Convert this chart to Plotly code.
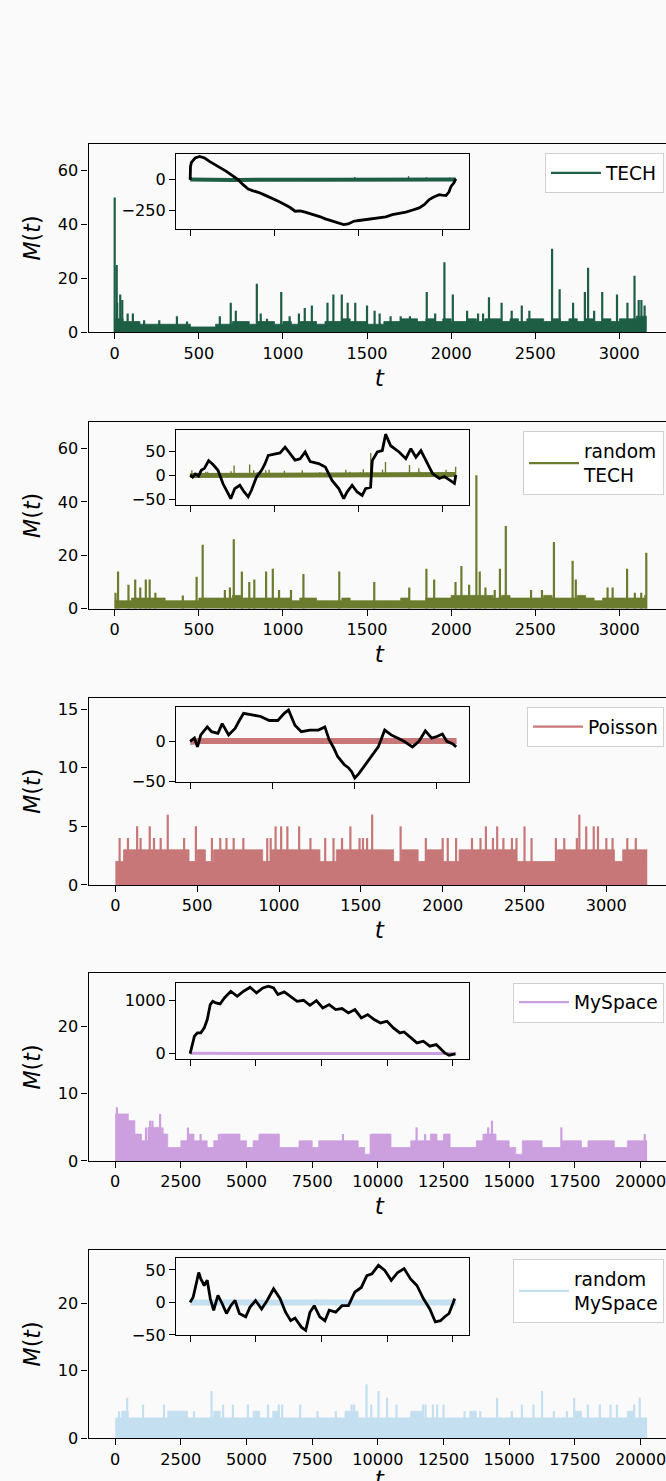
import numpy as np
import plotly.graph_objects as go

W, H = 666, 1481          # reference picture size (px); positions below are in these px
K = 1.0075                # compensation for the capture scale
BG = "#fafafa"

# ------------------------------------------------------------------ data
# sampled envelope of the dense part of each M(t) series
tech_env_t = list(range(0, 3200, 50)) + [3163]
tech_env = [5, 4, 4, 3, 3, 3, 3, 3, 3, 2, 2, 2, 3, 3, 4, 4, 3, 4, 4, 3,
            4, 3, 4, 4, 3, 4, 4, 5, 4, 4, 3, 3, 4, 4, 5, 5, 4, 5, 4, 5,
            4, 4, 5, 4, 5, 5, 4, 5, 4, 5, 5, 4, 5, 4, 5, 4, 5, 4, 5, 4,
            5, 5, 6, 6, 6]
tech_spike_t = [0, 12, 15, 33, 45, 77, 108, 175, 265, 370, 430, 625, 690, 720, 845,
                868, 905, 990, 1040, 1095, 1130, 1172, 1265, 1300, 1350, 1385, 1430,
                1500, 1545, 1575, 1640, 1700, 1755, 1855, 1905, 1960, 2010, 2095,
                2160, 2190, 2225, 2300, 2360, 2420, 2465, 2600, 2645, 2725, 2795,
                2814, 2850, 2898, 2986, 3048, 3090, 3115, 3131, 3150]
tech_spike_v = [50, 25, 11, 14, 12, 7, 7, 4.5, 4.5, 6, 4, 6, 11, 8, 18,
                7, 5, 15, 6, 7, 9, 10, 11, 14, 14, 11, 11,
                10, 8, 7, 6, 6, 6, 15, 7, 26, 14, 8,
                7, 7, 13, 11, 8, 10, 8, 31, 16, 11, 15,
                24, 8, 15, 14, 11, 21, 12, 12, 10]

rtech_env_t = list(range(0, 3200, 50)) + [3163]
rtech_env = [3, 3, 4, 4, 4, 4, 3, 3, 3, 3, 4, 4, 4, 4, 5, 4, 4, 4, 4, 4,
             4, 3, 4, 4, 3, 3, 3, 4, 3, 3, 3, 3, 3, 3, 4, 3, 3, 4, 4, 4,
             5, 5, 5, 5, 5, 4, 5, 4, 4, 4, 4, 5, 4, 4, 4, 5, 4, 3, 4, 4,
             4, 4, 4, 5, 5]
rtech_spike_t = [5, 20, 82, 122, 152, 185, 208, 242, 405, 487, 523, 655, 685, 708,
                 756, 800, 830, 900, 940, 977, 1048, 1122, 1335, 1543, 1751, 1853,
                 1899, 2026, 2061, 2107, 2150, 2170, 2204, 2259, 2290, 2325, 2475,
                 2540, 2611, 2722, 2741, 2930, 2960, 3046, 3092, 3130, 3160]
rtech_spike_v = [6, 14, 9, 11, 8, 11, 11, 6, 5, 12, 24, 7, 8, 26,
                 14, 10, 11, 14, 15, 7, 7, 13, 14, 10, 8, 15,
                 11, 10, 16, 9, 50, 14, 8, 7, 15, 31, 7,
                 7, 25, 18, 11, 8, 8, 15, 6, 6, 21]

pois_env_t = list(range(0, 3250, 50)) + [3250]
pois_env = [2, 3, 3, 3, 3, 3, 3, 3, 3, 2, 3, 2, 3, 3, 3, 3, 3, 3, 2, 3,
            3, 3, 3, 3, 3, 2, 2, 3, 3, 3, 3, 3, 3, 3, 2, 3, 3, 2, 3, 3,
            2, 2, 3, 3, 3, 3, 3, 3, 3, 2, 2, 2, 2, 2, 3, 3, 3, 3, 3, 3,
            3, 2, 3, 3, 3, 3]
pois_spike_t = [320, 1569, 2835,
                133, 210, 492, 979, 1013, 1051, 1123, 1436, 1743, 2264, 2333,
                2500, 2877, 2923, 2949,
                26, 77, 154, 236, 277, 420, 590, 641, 679, 723, 782, 928, 949,
                1192, 1282, 1333, 1385, 1492, 1513, 1538, 1897, 2000, 2031, 2082,
                2179, 2231, 2307, 2371, 2423, 2451, 2543, 2692, 2743, 2820, 3000,
                3038, 3128, 3180]
pois_spike_v = [6, 6, 6,
                5, 5, 5, 5, 5, 5, 5, 5, 5, 5, 5,
                5, 5, 5, 5,
                4, 4, 4, 4, 4, 4, 4, 4, 4, 4, 4, 4, 4,
                4, 4, 4, 4, 4, 4, 4, 4, 4, 4, 4,
                4, 4, 4, 4, 4, 4, 4, 4, 4, 4, 4,
                4, 4, 4]

mys_env_t = list(range(0, 20250, 250)) + [20250]
mys_env = [7, 7, 6, 4, 3, 5, 5, 4, 2, 2, 3, 4, 3, 3, 2, 3, 4, 4, 4, 3,
           2, 3, 4, 4, 4, 2, 2, 2, 3, 3, 2, 3, 3, 3, 3, 3, 3, 2, 1, 4,
           4, 4, 2, 2, 2, 3, 3, 3, 4, 3, 4, 2, 2, 2, 2, 3, 4, 4, 3, 3,
           2, 1, 3, 3, 3, 2, 2, 2, 3, 3, 3, 2, 3, 3, 3, 3, 2, 2, 3, 3,
           3, 3]
mys_spike_t = [65, 150, 277, 400, 520, 1174, 1330, 1418, 1597, 1711, 1800, 2771,
               3250, 3950, 4500, 5500, 8670, 9730, 10350, 11475, 11800, 12580,
               14200, 14344, 16985, 18700, 20160]
mys_spike_v = [8, 7, 7, 6, 6, 5, 6, 6, 5, 7, 5, 5,
               4, 4, 4, 4, 4, 4, 4, 5, 4, 4,
               5, 6, 5, 3, 4]

rmys_env_t = list(range(0, 20250, 250)) + [20250]
rmys_env = [3, 4, 3, 3, 3, 3, 3, 3, 4, 4, 4, 3, 3, 3, 3, 4, 3, 3, 3, 3,
            3, 4, 3, 3, 4, 3, 3, 3, 3, 3, 3, 3, 3, 3, 3, 4, 4, 3, 3, 3,
            3, 3, 3, 3, 3, 4, 4, 3, 3, 3, 3, 3, 3, 3, 4, 3, 3, 3, 3, 3,
            3, 3, 3, 3, 3, 3, 3, 3, 3, 3, 4, 3, 3, 3, 3, 3, 3, 3, 4, 3,
            3, 3]
rmys_spike_t = [456, 3668, 9568, 10025, 16250, 10350, 14540, 17474, 19968,
                1060, 1858, 4108, 4483, 5053, 5819, 6227, 6357, 7042, 8998, 9095,
                9747, 10709, 11720, 11818, 12095, 12258, 12502, 15485, 15925,
                17995, 18452, 18859, 19104, 19756,
                150, 300, 2300, 2600, 3000, 5400, 7700, 8400, 13300, 13900, 15100,
                16700, 17200]
rmys_spike_v = [6, 7, 8, 7, 7, 6, 6, 6, 6,
                5, 5, 5, 5, 5, 5, 5, 5, 5, 5, 5,
                5, 5, 5, 5, 5, 5, 5, 5, 5,
                5, 5, 5, 5, 5,
                4, 4, 4, 4, 4, 4, 4, 4, 4, 4, 4,
                4, 4]

# inset: cumulative deviation curves
tech_cum_t = [0, 4, 15, 32, 60, 112, 172, 230, 291, 360, 431, 500, 571, 630, 691, 750,
              810, 890, 970, 1050, 1130, 1190, 1249, 1310, 1369, 1430, 1489, 1550,
              1609, 1670, 1728, 1780, 1828, 1880, 1948, 2010, 2088, 2170, 2248, 2330,
              2407, 2490, 2567, 2650, 2727, 2790, 2846, 2900, 2966, 3000, 3046, 3080,
              3106, 3140, 3163]
tech_cum = [0, 107, 140, 156, 175, 188, 175, 148, 121, 95, 67, 35, 0, -40, -75, -90,
            -102, -125, -148, -175, -202, -225, -255, -252, -263, -275, -282, -300,
            -317, -330, -344, -352, -363, -358, -336, -330, -322, -318, -309, -300,
            -282, -275, -263, -245, -228, -200, -161, -140, -121, -125, -129, -100,
            -54, -25, 6]

rtech_cum_t = [0, 30, 60, 100, 132, 170, 220, 272, 331, 391, 451, 483, 531, 591, 643,
               691, 731, 790, 850, 890, 930, 1010, 1070, 1130, 1189, 1249, 1309, 1369,
               1429, 1529, 1609, 1689, 1769, 1828, 1868, 1928, 1988, 2048, 2088, 2148,
               2160, 2168, 2228, 2287, 2327, 2387, 2487, 2567, 2627, 2687, 2747, 2806,
               2886, 2966, 3026, 3086, 3146, 3163]
rtech_cum = [0, -4, 2, -2, 10, 14, 30, 22, 10, -18, -38, -49, -28, -21, -35,
             -45, -31, -4, 10, 23, 41, 43, 46, 58, 45, 31, 34, 48,
             28, 24, 17, -11, -28, -49, -35, -21, -35, -42, -28, -25,
             10, 30, 48, 51, 85, 61, 48, 34, 55, 37, 51, 30,
             3, -7, -3, -10, -17, 0]

pois_cum_t = [0, 52, 89, 130, 209, 261, 339, 391, 469, 548, 600, 652, 756, 861, 965,
              1069, 1148, 1200, 1278, 1356, 1460, 1565, 1643, 1695, 1750, 1799, 1878,
              1930, 1970, 2008, 2060, 2139, 2217, 2295, 2373, 2452, 2530, 2608, 2712,
              2791, 2869, 2947, 3010, 3077, 3130, 3200, 3246]
pois_cum = [0, 4, -7, 8, 18, 12, 10, 22, 8, 16, 26, 35, 33, 31, 26,
            26, 35, 39, 20, 12, 14, 14, 18, 2, -8, -19, -29,
            -33, -38, -46, -40, -29, -17, -7, 14, 8, 4, 0, -7,
            0, 13, 4, 6, 9, 0, -3, -7]

mys_cum_t = [0, 163, 326, 554, 814, 1075, 1303, 1531, 1726, 1954, 2280, 2606, 3094,
             3583, 4071, 4560, 5049, 5537, 5960, 6351, 6677, 7165, 7654, 8143, 8631,
             9120, 9608, 10097, 10586, 11074, 11563, 12051, 12540, 13028, 13517,
             14006, 14494, 14983, 15471, 15960, 16286, 16774, 17263, 17751, 18240,
             18729, 19380, 19705, 20193]
mys_cum = [0, 169, 325, 388, 388, 481, 638, 919, 981, 950, 931, 1044, 1169,
           1075, 1169, 1244, 1138, 1231, 1263, 1231, 1106, 1156, 1075, 981, 1000,
           906, 994, 856, 919, 825, 844, 763, 825, 669, 731,
           638, 575, 606, 481, 388, 406, 294, 200, 231, 138,
           169, 13, -31, -6]

rmys_cum_t = [0, 228, 489, 651, 814, 1075, 1303, 1531, 1791, 2117, 2443, 2768, 3094,
              3420, 3746, 4234, 4560, 4983, 5439, 5863, 6351, 6840, 7263, 7654, 7980,
              8468, 8794, 9120, 9446, 9868, 10260, 10586, 11074, 11563, 12051, 12540,
              13028, 13451, 13842, 14331, 14819, 15308, 15797, 16286, 16774, 17263,
              17751, 18240, 18664, 19054, 19380, 19705, 20030, 20128]
rmys_cum = [0, 8, 31, 46, 36, 26, 34, 6, -12, 11, -2, -17, -5,
            3, -17, -22, -7, 3, -10, 3, 21, 6, -15, -28, -24,
            -38, -43, -15, -5, -22, -28, -12, -15, -5, -5, 16,
            23, 41, 44, 57, 49, 34, 46, 52, 36, 26,
            6, -10, -30, -28, -22, -17, 0, 6]

names = ["TECH", "random<br>TECH", "Poisson", "MySpace", "random<br>MySpace"]
colors = ["#1d5e45", "#6b7c2f", "#c77777", "#cc9fdf", "#c4dff0"]

series = [
    (tech_env_t, tech_env, tech_spike_t, tech_spike_v, tech_cum_t, tech_cum),
    (rtech_env_t, rtech_env, rtech_spike_t, rtech_spike_v, rtech_cum_t, rtech_cum),
    (pois_env_t, pois_env, pois_spike_t, pois_spike_v, pois_cum_t, pois_cum),
    (mys_env_t, mys_env, mys_spike_t, mys_spike_v, mys_cum_t, mys_cum),
    (rmys_env_t, rmys_env, rmys_spike_t, rmys_spike_v, rmys_cum_t, rmys_cum),
]

# ------------------------------------------------------------------ layout geometry (px)
main_top = [144, 422.7, 699, 975, 1252.3]
main_bot = [333, 610, 886.7, 1163.3, 1441]
ins_top = [154, 430.7, 708.3, 985, 1260.7]
ins_bot = [229, 506, 783.3, 1060.7, 1337.7]
MX0, MX1 = 88, 666
IX0, IX1 = 175, 466

main_xr = [[-155.5, 3301], [-155.5, 3301], [-164, 3389], [-1015, 21122], [-1015, 21122]]
main_yr = [[0, 70], [0, 70], [0, 16], [0, 28], [0, 28]]
main_xdt = [500, 500, 500, 2500, 2500]
main_ydt = [20, 20, 5, 10, 10]
ins_xr = [[-168, 3317], [-168, 3317], [-172, 3399], [-1072, 21210], [-1072, 21210]]
ins_yr = [[-395, 210], [-62, 94], [-50.5, 43], [-94, 1324], [-50, 68]]
ins_ydt = [250, 50, 50, 1000, 50]
ins_xdt = [1000, 1000, 1000, 5000, 5000]
band_w = [4, 5, 6, 3, 6]


def dx(a, b):
    return [a / W, b / W]


def dy(top, bot):
    return [1 - bot / H, 1 - top / H]


FONT = "DejaVu Sans"
tickfont = dict(family=FONT, size=16 * K, color="black")
axis_common = dict(showline=True, linecolor="black", linewidth=1.2, mirror=True,
                   ticks="outside", ticklen=6 * K, tickwidth=1.2, tickcolor="black",
                   showgrid=False, zeroline=False, tickfont=tickfont,
                   tickformat="d", exponentformat="none")

fig = go.Figure()
layout = {}

for i, (et, ev, st, sv, ct, cv) in enumerate(series):
    c = colors[i]
    ma = 2 * i + 1
    ia = 2 * i + 2
    mx = "x" if ma == 1 else f"x{ma}"
    my = "y" if ma == 1 else f"y{ma}"
    ix, iy = f"x{ia}", f"y{ia}"
    leg = "legend" if i == 0 else f"legend{i + 1}"

    # main dense part
    fig.add_trace(go.Scatter(x=et, y=ev, mode="lines", line=dict(color=c, width=0.8, shape="hv"),
                             fill="tozeroy", fillcolor=c, showlegend=False,
                             xaxis=mx, yaxis=my, hoverinfo="skip"))
    # main spikes
    sx, sy = [], []
    for t, v in zip(st, sv):
        sx += [t, t, None]
        sy += [0, v, None]
    fig.add_trace(go.Scatter(x=sx, y=sy, mode="lines", line=dict(color=c, width=2.2),
                             name=names[i], legend=leg, showlegend=True,
                             xaxis=mx, yaxis=my))

    # inset: centered series
    mean = float(np.mean(ev))
    fig.add_trace(go.Scatter(x=et, y=[v - mean for v in ev], mode="lines",
                             line=dict(color=c, width=band_w[i]), showlegend=False,
                             xaxis=ix, yaxis=iy, hoverinfo="skip"))
    isx, isy = [], []
    for t, v in zip(st, sv):
        isx += [t, t, None]
        isy += [0, v - mean, None]
    fig.add_trace(go.Scatter(x=isx, y=isy, mode="lines", line=dict(color=c, width=1.4),
                             showlegend=False, xaxis=ix, yaxis=iy, hoverinfo="skip"))
    # inset: cumulative curve
    fig.add_trace(go.Scatter(x=ct, y=cv, mode="lines", line=dict(color="black", width=2.8),
                             showlegend=False, xaxis=ix, yaxis=iy, hoverinfo="skip"))

    mxk = "xaxis" if ma == 1 else f"xaxis{ma}"
    myk = "yaxis" if ma == 1 else f"yaxis{ma}"
    layout[mxk] = dict(axis_common, domain=dx(MX0, MX1), anchor=my, range=main_xr[i],
                       tick0=0, dtick=main_xdt[i],
                       title=dict(text="<i>t</i>", font=dict(family=FONT, size=23 * K, color="black"),
                                  standoff=7))
    layout[myk] = dict(axis_common, domain=dy(main_top[i], main_bot[i]), anchor=mx,
                       range=main_yr[i], tick0=0, dtick=main_ydt[i],
                       title=dict(text="<i>M</i>(<i>t</i>)",
                                  font=dict(family=FONT, size=22 * K, color="black"), standoff=10))
    layout[f"xaxis{ia}"] = dict(axis_common, domain=dx(IX0, IX1), anchor=iy, range=ins_xr[i],
                                tick0=0, dtick=ins_xdt[i], showticklabels=False)
    layout[f"yaxis{ia}"] = dict(axis_common, domain=dy(ins_top[i], ins_bot[i]), anchor=ix,
                                range=ins_yr[i], tick0=0, dtick=ins_ydt[i])
    layout[leg] = dict(x=660 / W, xanchor="right", y=1 - (main_top[i] + 9.5) / H, yanchor="top",
                       bgcolor="rgba(255,255,255,0.85)", bordercolor="#d0d0d0", borderwidth=1,
                       font=dict(family=FONT, size=18.5 * K, color="black"), itemwidth=50)

fig.update_layout(width=round(W * K), height=round(H * K), margin=dict(l=0, r=0, t=0, b=0),
                  paper_bgcolor=BG, plot_bgcolor=BG, showlegend=True, **layout)

fig.write_html(
    "out.html",
    config={"displayModeBar": False},
    post_script=("document.documentElement.style.margin='0';"
                 "document.documentElement.style.padding='0';"
                 "document.documentElement.style.overflow='hidden';"
                 "document.body.style.margin='0';"
                 "document.body.style.padding='0';"
                 "document.body.style.overflow='hidden';"
                 "document.body.style.background='#fafafa';"),
)
